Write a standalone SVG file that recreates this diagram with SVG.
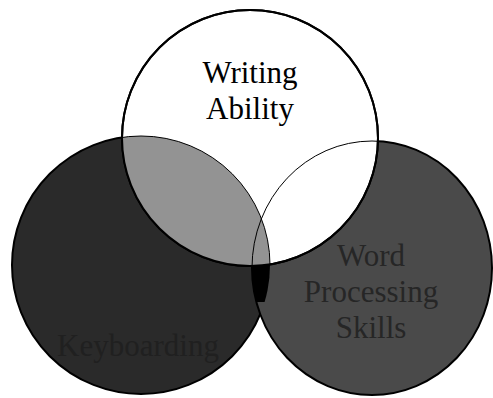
<svg xmlns="http://www.w3.org/2000/svg" width="493" height="398" viewBox="0 0 493 398">
  <style>
    .lbl { font-family: "Liberation Serif", "Times New Roman", serif; font-size: 31px; text-anchor: middle; }
    .edge { stroke: #000; stroke-width: 2; }
  </style>
  <defs>
    <clipPath id="clipLeft"><circle cx="141" cy="265" r="129"/></clipPath>
    <clipPath id="clipTop"><circle cx="250" cy="138" r="128"/></clipPath>
    <clipPath id="clipUpper"><rect x="0" y="0" width="493" height="302"/></clipPath>
  </defs>
  <rect width="493" height="398" fill="#fff"/>
  <g id="left">
    <circle cx="141" cy="265" r="129" fill="#2a2a2a" class="edge"/>
    <text class="lbl" x="138" y="356" fill="#202020">Keyboarding</text>
  </g>
  <g id="right">
    <ellipse cx="372" cy="268" rx="120" ry="127" fill="#4a4a4a" class="edge"/>
    <text class="lbl" x="371" y="266" fill="#262626">Word</text>
    <text class="lbl" x="371" y="302" fill="#262626">Processing</text>
    <text class="lbl" x="371" y="338" fill="#262626">Skills</text>
  </g>
  <g id="overlaps">
    <g clip-path="url(#clipUpper)">
      <ellipse cx="372" cy="268" rx="120" ry="127" fill="#000" clip-path="url(#clipLeft)"/>
    </g>
  </g>
  <g id="top">
    <circle cx="250" cy="138" r="128" fill="#fff" class="edge"/>
    <circle cx="141" cy="265" r="129" fill="#939393" stroke="#000" stroke-width="1" clip-path="url(#clipTop)"/>
    <ellipse cx="372" cy="268" rx="120" ry="127" fill="none" stroke="#000" stroke-width="1" clip-path="url(#clipTop)"/>
    <circle cx="250" cy="138" r="128" fill="none" class="edge"/>
    <text class="lbl" x="250" y="83" fill="#000">Writing</text>
    <text class="lbl" x="250" y="119" fill="#000">Ability</text>
  </g>
</svg>
